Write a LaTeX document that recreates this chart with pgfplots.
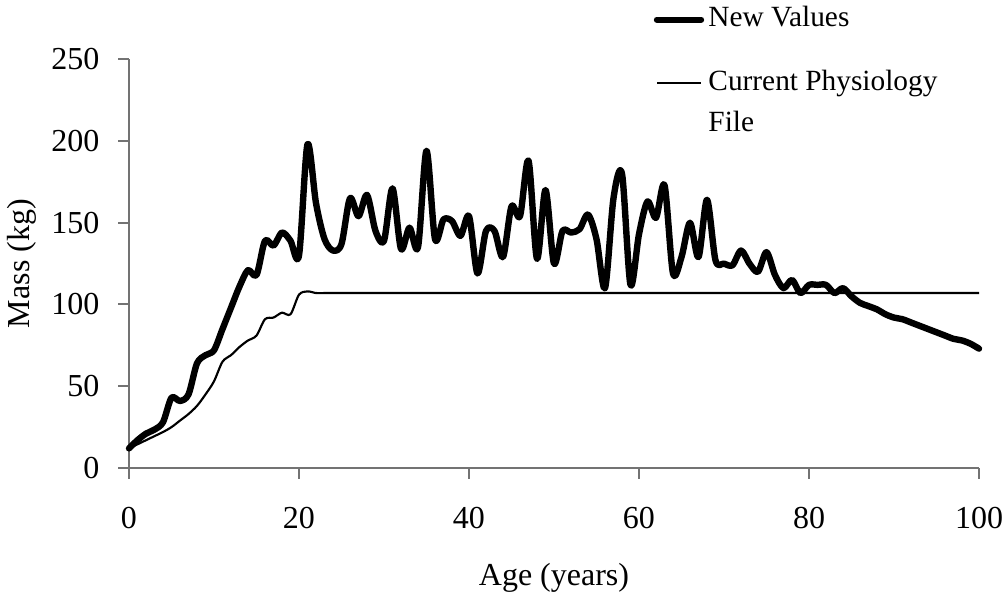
\documentclass[border=0pt]{standalone}
\usepackage{fontspec}
\setmainfont{Liberation Serif}
\usepackage{pgfplots}
\usepackage{pgfplotstable}
\pgfplotsset{compat=1.18}

% age, new values (thick), current physiology file (thin)
\pgfplotstableread{
age new cur
0 12 12
1 17 14.5
2 21 17
3 23.5 19.5
4 28 22
5 43 25
6 41 29
7 45 33
8 64 38
9 69 45
10 72 53
11 85 65
12 98 69
13 111 74
14 121 78
15 118 81
16 139 91
17 136 92
18 144 95
19 139 94
20 130 106
21 198 108
22 162 107
23 140 107
24 133 107
25 137 107
26 165 107
27 154 107
28 167 107
29 145 107
30 139 107
31 171 107
32 134 107
33 147 107
34 135 107
35 194 107
36 140 107
37 152 107
38 151 107
39 142 107
40 154 107
41 119 107
42 145 107
43 145 107
44 129 107
45 160 107
46 154 107
47 188 107
48 128 107
49 170 107
50 125 107
51 145 107
52 144 107
53 146 107
54 155 107
55 140 107
56 110 107
57 165 107
58 180 107
59 112 107
60 143 107
61 163 107
62 153 107
63 173 107
64 119 107
65 129 107
66 150 107
67 129 107
68 164 107
69 127 107
70 125 107
71 124 107
72 133 107
73 125 107
74 120 107
75 132 107
76 118 107
77 110 107
78 115 107
79 107 107
80 112 107
81 112 107
82 112 107
83 107 107
84 110 107
85 105 107
86 101 107
87 99 107
88 97 107
89 94 107
90 92 107
91 91 107
92 89 107
93 87 107
94 85 107
95 83 107
96 81 107
97 79 107
98 78 107
99 76 107
100 73 107
}\massdata

\begin{document}
\begin{tikzpicture}
% page = full reference frame, axis box at origin
\path[use as bounding box] (-48.375pt,-49.125pt) rectangle (329.625pt,175.5pt);
\begin{axis}[
  at={(0,0)}, anchor=south west,
  width=318.75pt, height=153.3pt, scale only axis,
  xmin=0, xmax=100, ymin=0, ymax=250,
  xtick={0,20,...,100}, ytick={0,50,...,250},
  axis lines*=left,
  axis line style={gray!90!black, line width=0.75pt},
  tick style={gray!90!black, line width=0.75pt},
  tick align=outside, major tick length=4pt,
  font=\fontsize{12}{14.4}\selectfont,
  /pgf/number format/assume math mode=true,
  xticklabel style={anchor=base, inner sep=0pt, yshift=-18.8pt},
  yticklabel style={anchor=east, inner sep=0pt, xshift=-6.9pt},
  every axis x label/.style={at={(axis description cs:0.5,-0.2864)}, anchor=base},
  every axis y label/.style={at={(axis description cs:-0.1255,0.5)}, rotate=90, anchor=center},
  xlabel={Age (years)}, ylabel={Mass (kg)},
  clip=false,
]
\addplot[black, line width=2.4pt, smooth, line join=round, line cap=round]
  table[x=age, y=new] {\massdata};
\addplot[black, line width=0.8pt, smooth, line join=round]
  table[x=age, y=cur] {\massdata};
\end{axis}
% legend
\begin{scope}[font=\fontsize{11}{15.6}\selectfont]
\draw[line width=2.4pt, line cap=round] (198pt,168.1pt) -- (214.5pt,168.1pt);
\node[anchor=base west, inner sep=0pt] at (217.1pt,165.5pt) {New Values};
\draw[line width=0.8pt] (198pt,144.4pt) -- (214.5pt,144.4pt);
\node[anchor=base west, inner sep=0pt, align=left] at (217.1pt,126.15pt) {Current Physiology\\File};
\end{scope}
\end{tikzpicture}
\end{document}
